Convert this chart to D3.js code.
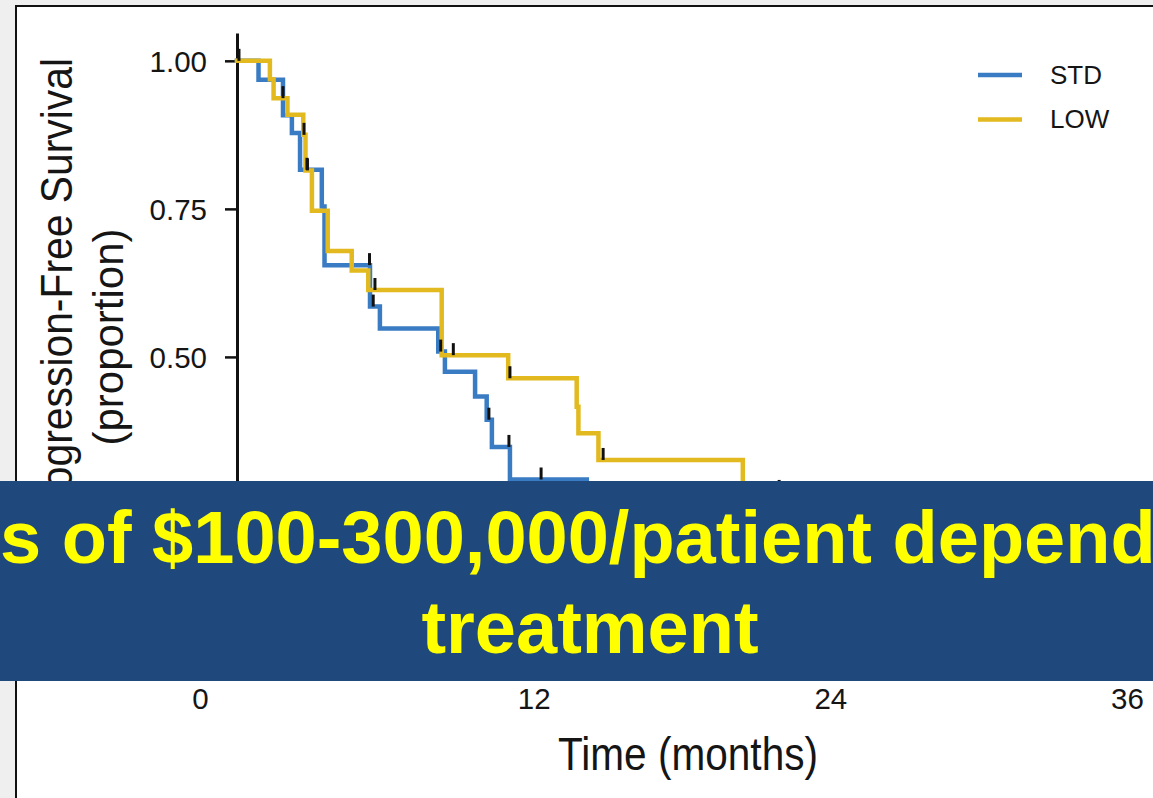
<!DOCTYPE html>
<html>
<head>
<meta charset="utf-8">
<script src="https://cdn.jsdelivr.net/npm/d3@7/dist/d3.min.js"></script>
<style>
  html, body { margin: 0; padding: 0; background: #efefef; }
  svg { display: block; }
  text { font-family: "Liberation Sans", Arial, Helvetica, sans-serif; }
</style>
</head>
<body>
<svg id="chart" width="1153" height="798"></svg>
<script>
// ---- Data ----
const seriesNames = ["STD", "LOW"];
const seriesColors = ["#3a7cc4", "#e2b91e"];

// STD arm: step times (months) and survival proportion after each step
const stdTimes = [0, 0.87, 1.86, 2.22, 2.55, 3.43, 3.54, 5.38, 5.78, 8.14, 8.41, 9.63, 10.10, 10.31, 11.04];
const stdSurv  = [1.000, 0.968, 0.908, 0.878, 0.816, 0.754, 0.655, 0.585, 0.548, 0.509, 0.475, 0.433, 0.394, 0.348, 0.293];
const stdEnd = 14.15;
const stdCensor = [0.08, 2.83, 5.36, 5.51, 8.24, 10.19, 11.00, 12.30];

// LOW arm
const lowTimes = [0, 1.33, 1.48, 2.04, 2.68, 2.77, 3.03, 3.67, 4.64, 5.31, 8.28, 10.97, 13.74, 13.81, 14.62, 20.46];
const lowSurv  = [1.000, 0.969, 0.937, 0.909, 0.875, 0.815, 0.747, 0.679, 0.646, 0.613, 0.503, 0.464, 0.416, 0.371, 0.326, 0.272];
const lowEnd = 22.17;
const lowCensor = [1.86, 2.71, 2.85, 5.58, 8.75, 11.04, 14.81, 21.93];

const xTicks = [0, 12, 24, 36];
const yTicks = [0, 0.25, 0.50, 0.75, 1.00];

const yTitle1 = "Progression-Free Survival";
const yTitle2 = "(proportion)";
const xTitle = "Time (months)";
const bannerLine1 = "Costs of $100-300,000/patient depending on";
const bannerLine2 = "treatment";

// ---- Drawing ----
const svg = d3.select("#chart");
const W = 1153, H = 798;

// white panel with black frame
svg.append("rect").attr("x", 16).attr("y", 6).attr("width", W).attr("height", H)
  .attr("fill", "#ffffff").attr("stroke", "#111").attr("stroke-width", 2);

const x = d3.scaleLinear().domain([0, 36]).range([237, 1127]);
const y = d3.scaleLinear().domain([0, 1.047]).range([653, 33]);

// y axis
const yAxis = d3.axisLeft(y).tickValues(yTicks).tickFormat(d3.format(".2f"))
  .tickSize(12).tickSizeOuter(0).tickPadding(18);
const gy = svg.append("g").attr("transform", `translate(${x(0)},0)`).call(yAxis);
gy.select(".domain").attr("stroke", "#111").attr("stroke-width", 3);
gy.selectAll(".tick line").attr("stroke", "#111").attr("stroke-width", 2.5);
gy.selectAll(".tick text").attr("font-size", 29.5).attr("fill", "#151515").attr("dy", "0.36em");

// x axis
const xAxis = d3.axisBottom(x).tickValues(xTicks).tickFormat(d3.format("d"))
  .tickSize(12).tickSizeOuter(0).tickPadding(23);
const gx = svg.append("g").attr("transform", `translate(0,${y(0)})`).call(xAxis);
gx.select(".domain").attr("stroke", "#111").attr("stroke-width", 3);
gx.selectAll(".tick line").attr("stroke", "#111").attr("stroke-width", 2.5);
gx.selectAll(".tick text").attr("font-size", 29.5).attr("fill", "#151515")
  .attr("dx", d => d === 0 ? -37 : 0);

// axis titles
svg.append("text").attr("transform", "translate(72,58) rotate(-90)")
  .attr("text-anchor", "end").attr("font-size", 45).attr("fill", "#151515")
  .attr("textLength", 472).attr("lengthAdjust", "spacingAndGlyphs").text(yTitle1);
svg.append("text").attr("transform", "translate(123,337) rotate(-90)")
  .attr("text-anchor", "middle").attr("font-size", 42).attr("fill", "#151515").text(yTitle2);
svg.append("text").attr("x", 688).attr("y", 770).attr("text-anchor", "middle")
  .attr("font-size", 46).attr("fill", "#151515")
  .attr("textLength", 260).attr("lengthAdjust", "spacingAndGlyphs").text(xTitle);

// KM curves
function toPoints(times, surv, end) {
  const pts = times.map((t, i) => [t, surv[i]]);
  pts.push([end, surv[surv.length - 1]]);
  return pts;
}
function levelAt(times, surv, t) {
  let v = surv[0];
  for (let i = 0; i < times.length; i++) if (times[i] <= t) v = surv[i];
  return v;
}
const line = d3.line().x(d => x(d[0])).y(d => y(d[1])).curve(d3.curveStepAfter);

const series = [
  { times: stdTimes, surv: stdSurv, end: stdEnd, censor: stdCensor, color: seriesColors[0] },
  { times: lowTimes, surv: lowSurv, end: lowEnd, censor: lowCensor, color: seriesColors[1] }
];

const plot = svg.append("g");
series.forEach(s => {
  plot.append("path").attr("d", line(toPoints(s.times, s.surv, s.end)))
    .attr("fill", "none").attr("stroke", s.color).attr("stroke-width", 4.5)
    .attr("stroke-linejoin", "miter").attr("stroke-linecap", "square");
});
series.forEach(s => {
  plot.selectAll(null).data(s.censor).enter().append("line")
    .attr("x1", d => x(d)).attr("x2", d => x(d))
    .attr("y1", d => y(levelAt(s.times, s.surv, d)))
    .attr("y2", d => y(levelAt(s.times, s.surv, d)) - 12)
    .attr("stroke", "#111").attr("stroke-width", 3);
});

// legend
const legend = svg.append("g");
seriesNames.forEach((name, i) => {
  const ly = 75 + i * 44.5;
  legend.append("line").attr("x1", 978).attr("x2", 1022).attr("y1", ly).attr("y2", ly)
    .attr("stroke", seriesColors[i]).attr("stroke-width", 4.5);
  legend.append("text").attr("x", 1050).attr("y", ly + 8.7).attr("font-size", 26)
    .attr("fill", "#151515").text(name);
});

// banner overlay
svg.append("rect").attr("x", 0).attr("y", 481).attr("width", W).attr("height", 200)
  .attr("fill", "#1f497d");
const measure = svg.append("text").attr("font-size", 74).attr("font-weight", "bold").text("Cost");
const wCost = measure.node().getComputedTextLength();
measure.remove();
svg.append("text").attr("x", -wCost).attr("y", 563).attr("font-size", 74)
  .attr("font-weight", "bold").attr("fill", "#ffff00").text(bannerLine1);
svg.append("text").attr("x", 590).attr("y", 653).attr("text-anchor", "middle").attr("font-size", 74)
  .attr("font-weight", "bold").attr("fill", "#ffff00").text(bannerLine2);
</script>
</body>
</html>
